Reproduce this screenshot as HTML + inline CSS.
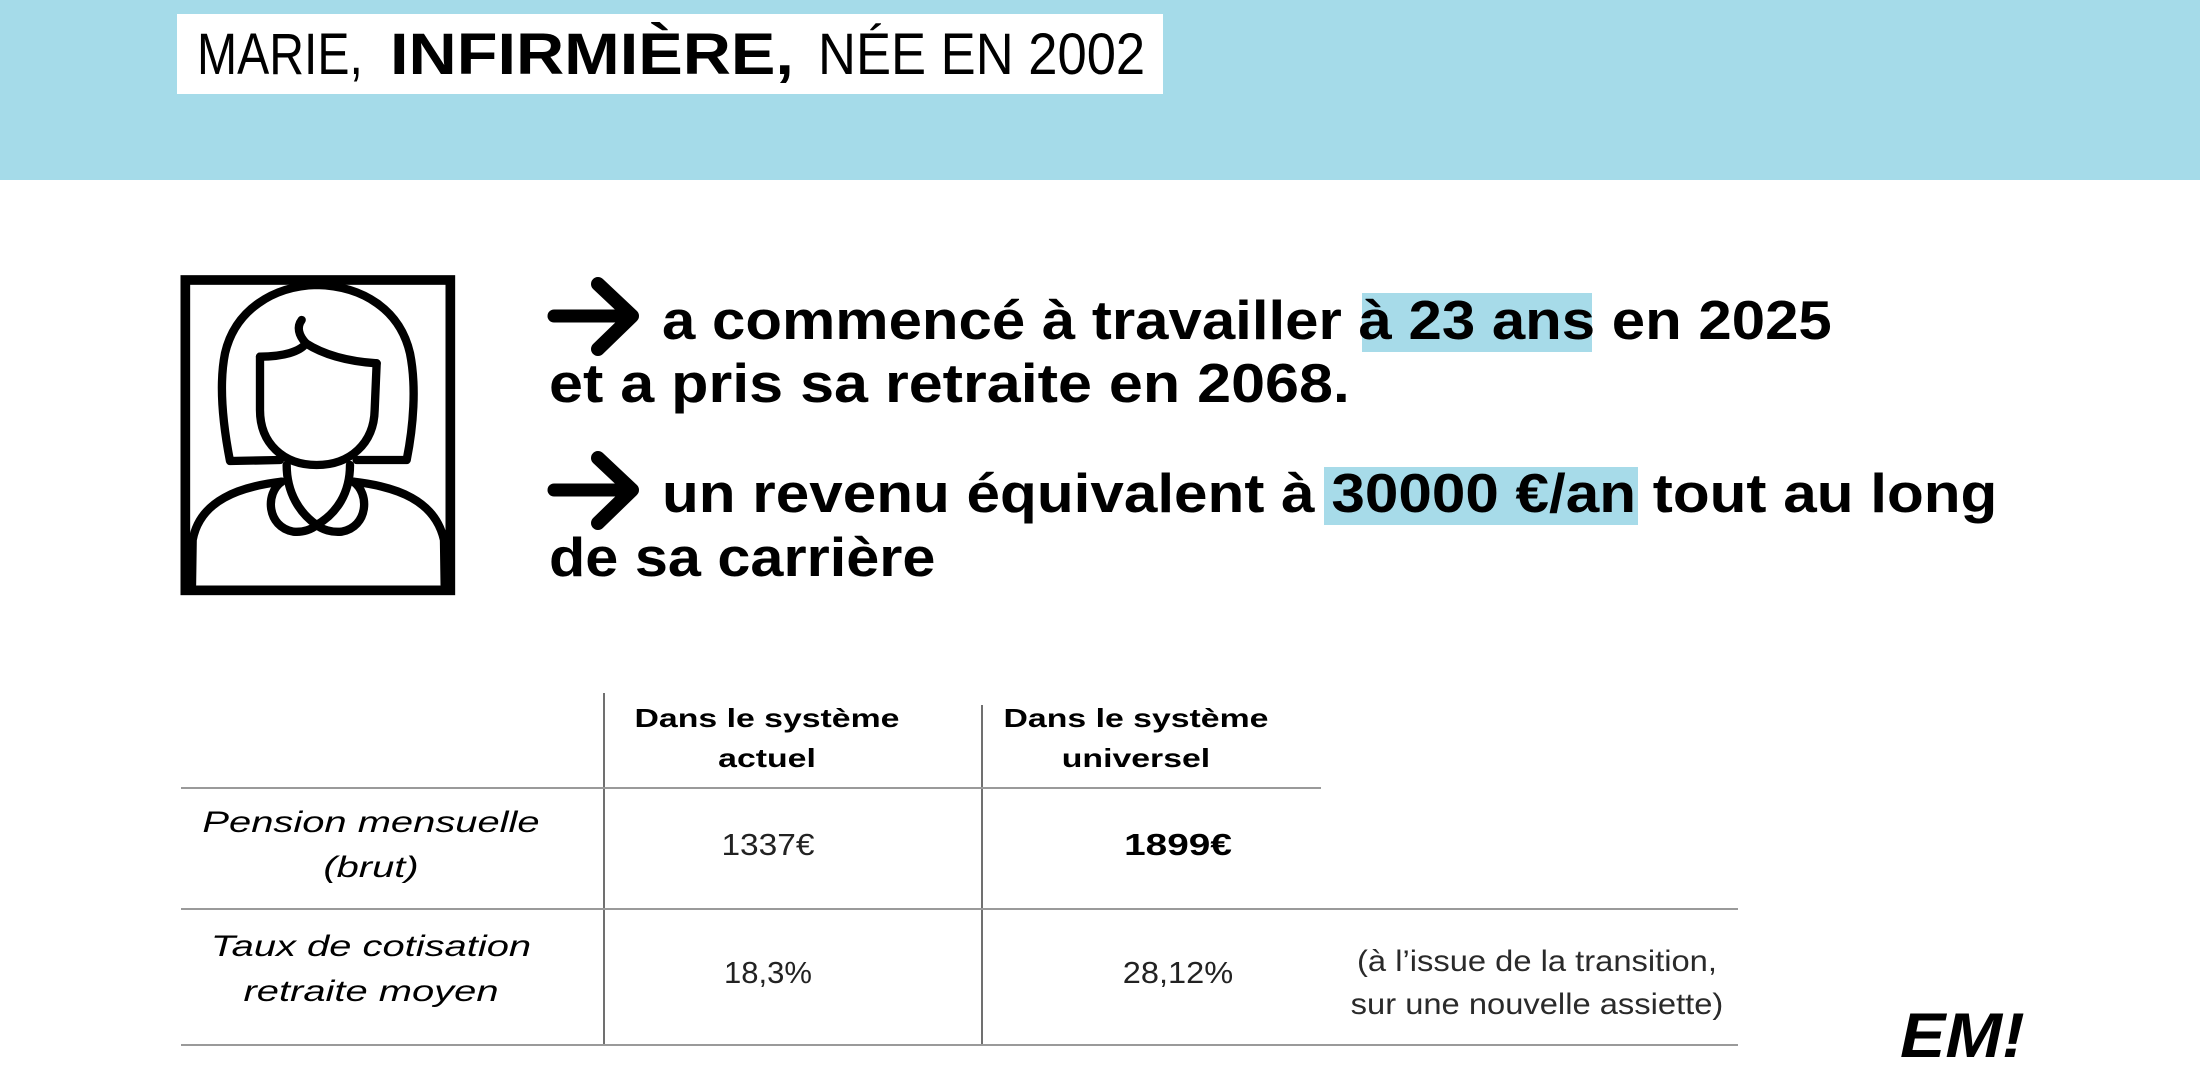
<!DOCTYPE html>
<html><head><meta charset="utf-8">
<style>
html,body{margin:0;padding:0;}
body{width:2200px;height:1085px;position:relative;overflow:hidden;background:#fff;font-family:"Liberation Sans",Arial,sans-serif;color:#000;}
.a{position:absolute;white-space:nowrap;}
.l{transform-origin:0 0;}
.c{transform-origin:50% 0;text-align:center;}
.hl{position:absolute;background:#a7dbe9;}
.hr{position:absolute;height:2px;background:#9a9a9a;}
.vr{position:absolute;width:2px;background:#707070;}
</style></head>
<body>
<div class="a" style="left:0;top:0;width:2200px;height:180px;background:#a5dbe9;"></div>
<div class="a" style="left:177px;top:14px;width:986px;height:80px;background:#fff;"></div>
<div class="a l" style="left:197px;top:26px;font-size:58px;line-height:58px;transform:scaleX(0.83);">MARIE,</div>
<div class="a l" style="left:390px;top:26px;font-size:58px;line-height:58px;font-weight:bold;transform:scaleX(1.15);">INFIRMIÈRE,</div>
<div class="a l" style="left:818px;top:26px;font-size:58px;line-height:58px;transform:scaleX(0.906);">NÉE EN 2002</div>

<!-- portrait -->
<svg class="a" style="left:150px;top:260px;" width="350" height="350" viewBox="0 0 1050 1050">
<g fill="none" stroke="#000" stroke-width="25" stroke-linecap="round" stroke-linejoin="round">
<rect x="106" y="60" width="795" height="931" stroke-width="29" stroke-linecap="butt" stroke-linejoin="miter"/>
<path d="M390 600 L240 603 C220 500 205 380 225 280 C255 150 370 78 500 75 C640 78 750 150 780 280 C800 380 790 500 770 600 L620 600"/>
<path d="M330 290 L330 450 C330 550 400 615 500 615 C600 615 672 550 674 450 L680 310"/>
<path d="M330 290 C400 290 450 275 468 250 C445 225 440 200 455 180"/>
<path d="M468 250 C530 290 610 305 680 310"/>
<path d="M410 615 C410 700 450 760 500 795"/>
<path d="M600 615 C600 700 560 760 500 795"/>
<path d="M395 665 C345 700 350 800 430 815 C460 818 485 808 500 795"/>
<path d="M610 665 C660 700 655 800 575 815 C545 818 515 808 500 795"/>
<path d="M395 665 C270 680 150 720 128 840 L126 975"/>
<path d="M610 665 C740 680 855 720 882 840 L884 975"/>
</g>
</svg>

<!-- highlights -->
<div class="hl" style="left:1362px;top:293px;width:230px;height:59px;"></div>
<div class="hl" style="left:1324px;top:467px;width:314px;height:58px;"></div>

<!-- arrows -->
<svg class="a" style="left:540px;top:270px;" width="120" height="100" viewBox="0 0 120 100">
<g stroke="#000" fill="none" stroke-linecap="round" stroke-linejoin="round">
<line x1="14" y1="46" x2="90" y2="46" stroke-width="13"/>
<polyline points="58,14 92,46 58,79" stroke-width="14"/>
</g></svg>
<svg class="a" style="left:540px;top:444px;" width="120" height="100" viewBox="0 0 120 100">
<g stroke="#000" fill="none" stroke-linecap="round" stroke-linejoin="round">
<line x1="14" y1="46" x2="90" y2="46" stroke-width="13"/>
<polyline points="58,14 92,46 58,79" stroke-width="14"/>
</g></svg>

<div class="a l" style="left:662px;top:293px;font-size:55px;line-height:55px;font-weight:bold;transform:scaleX(1.09);">a commencé à travailler à 23 ans en 2025</div>
<div class="a l" style="left:549px;top:356px;font-size:55px;line-height:55px;font-weight:bold;transform:scaleX(1.11);">et a pris sa retraite en 2068.</div>
<div class="a l" style="left:662px;top:466px;font-size:55px;line-height:55px;font-weight:bold;transform:scaleX(1.095);">un revenu équivalent à 30000 €/an tout au long</div>
<div class="a l" style="left:549px;top:530px;font-size:55px;line-height:55px;font-weight:bold;transform:scaleX(1.08);">de sa carrière</div>

<!-- table lines -->
<div class="vr" style="left:603px;top:693px;height:352px;"></div>
<div class="vr" style="left:981px;top:705px;height:340px;"></div>
<div class="hr" style="left:181px;top:787px;width:1140px;"></div>
<div class="hr" style="left:181px;top:908px;width:1557px;"></div>
<div class="hr" style="left:181px;top:1044px;width:1557px;"></div>

<!-- headers -->
<div class="a c" style="left:567px;top:698px;width:400px;font-size:26px;line-height:40px;font-weight:bold;transform:scaleX(1.3);">Dans le système<br>actuel</div>
<div class="a c" style="left:936px;top:698px;width:400px;font-size:26px;line-height:40px;font-weight:bold;transform:scaleX(1.3);">Dans le système<br>universel</div>

<!-- row labels -->
<div class="a c" style="left:171px;top:800px;width:400px;font-size:30px;line-height:45px;font-style:italic;transform:scaleX(1.33);">Pension mensuelle<br>(brut)</div>
<div class="a c" style="left:171px;top:924px;width:400px;font-size:30px;line-height:45px;font-style:italic;transform:scaleX(1.33);">Taux de cotisation<br>retraite moyen</div>

<!-- values -->
<div class="a c" style="left:668px;top:829px;width:200px;font-size:31px;line-height:31px;color:#222;transform:scaleX(1.08);">1337€</div>
<div class="a c" style="left:1078px;top:829px;width:200px;font-size:31px;line-height:31px;font-weight:bold;transform:scaleX(1.25);">1899€</div>
<div class="a c" style="left:668px;top:957px;width:200px;font-size:31px;line-height:31px;color:#222;">18,3%</div>
<div class="a c" style="left:1078px;top:957px;width:200px;font-size:31px;line-height:31px;color:#222;transform:scaleX(1.05);">28,12%</div>

<!-- note -->
<div class="a c" style="left:1337px;top:940px;width:400px;font-size:30px;line-height:43px;color:#2a2a2a;transform:scaleX(1.09);">(à l’issue de la transition,<br>sur une nouvelle assiette)</div>

<!-- EM! -->
<div class="a l" style="left:1900px;top:1005px;font-size:63px;line-height:63px;font-weight:bold;font-style:italic;transform:scaleX(1.08);">EM!</div>
</body></html>
